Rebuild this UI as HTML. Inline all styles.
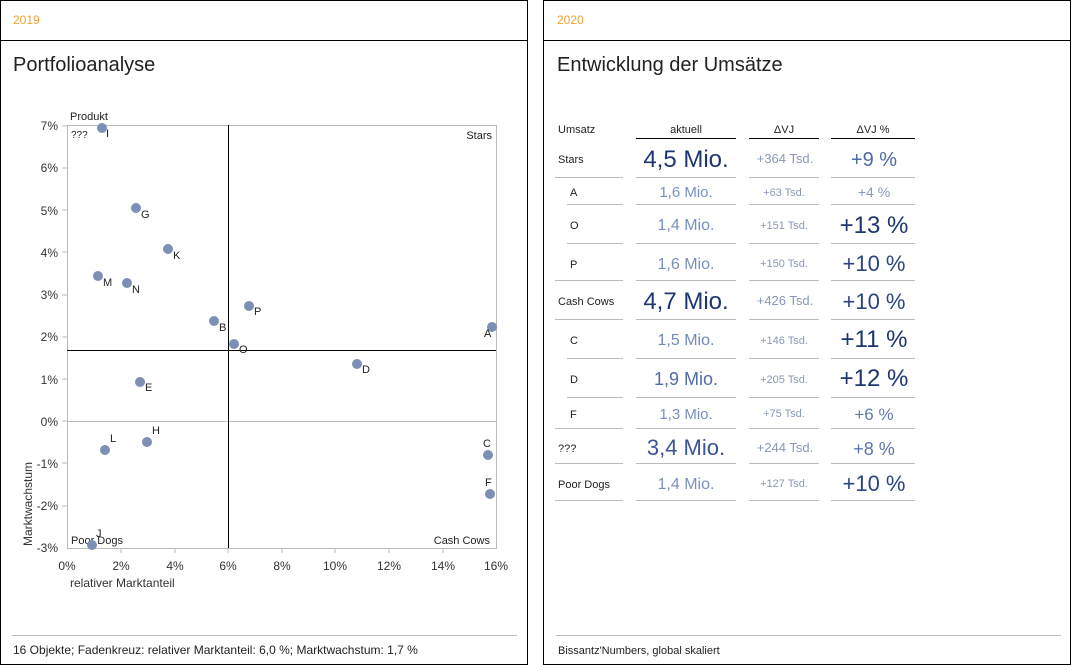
<!DOCTYPE html>
<html><head><meta charset="utf-8"><style>
body{margin:0;background:#fff;}
svg{display:block;font-family:"Liberation Sans",sans-serif;}
</style></head><body>
<svg width="1072" height="665" viewBox="0 0 1072 665">
<rect x="0.5" y="0.5" width="527" height="664" fill="#fff" stroke="#000"/>
<line x1="0" y1="40.5" x2="528" y2="40.5" stroke="#000"/>
<text x="13" y="24" font-size="12" fill="#f0a030">2019</text>
<text x="13" y="71" font-size="20" fill="#222">Portfolioanalyse</text>
<!-- plot -->
<rect x="67.5" y="125.5" width="429" height="423" fill="none" stroke="#bbb"/>
<line x1="67" y1="421.5" x2="496" y2="421.5" stroke="#bbb"/>
<line x1="228.5" y1="125" x2="228.5" y2="548" stroke="#000"/>
<line x1="67" y1="350.5" x2="496" y2="350.5" stroke="#000"/>
<g font-size="12" fill="#333" text-anchor="end">
<text x="58" y="130">7%</text><text x="58" y="172">6%</text><text x="58" y="215">5%</text>
<text x="58" y="257">4%</text><text x="58" y="299">3%</text><text x="58" y="341">2%</text>
<text x="58" y="384">1%</text><text x="58" y="426">0%</text><text x="58" y="468">-1%</text>
<text x="58" y="510">-2%</text><text x="58" y="552">-3%</text>
</g>
<g stroke="#bbb"><line x1="62" y1="126" x2="67" y2="126"/><line x1="62" y1="168" x2="67" y2="168"/><line x1="62" y1="210" x2="67" y2="210"/><line x1="62" y1="252" x2="67" y2="252"/><line x1="62" y1="295" x2="67" y2="295"/><line x1="62" y1="337" x2="67" y2="337"/><line x1="62" y1="379" x2="67" y2="379"/><line x1="62" y1="421" x2="67" y2="421"/><line x1="62" y1="463" x2="67" y2="463"/><line x1="62" y1="506" x2="67" y2="506"/><line x1="121" y1="548" x2="121" y2="553"/><line x1="175" y1="548" x2="175" y2="553"/><line x1="228" y1="548" x2="228" y2="553"/><line x1="282" y1="548" x2="282" y2="553"/><line x1="335" y1="548" x2="335" y2="553"/><line x1="389" y1="548" x2="389" y2="553"/><line x1="443" y1="548" x2="443" y2="553"/></g>
<g font-size="12" fill="#333" text-anchor="middle">
<text x="67" y="570">0%</text><text x="121" y="570">2%</text><text x="175" y="570">4%</text>
<text x="228" y="570">6%</text><text x="282" y="570">8%</text><text x="335" y="570">10%</text>
<text x="389" y="570">12%</text><text x="443" y="570">14%</text><text x="496" y="570">16%</text>
</g>
<text x="70" y="587" font-size="12" fill="#333">relativer Marktanteil</text>
<text transform="translate(32,546) rotate(-90)" font-size="12" fill="#333">Marktwachstum</text>
<text x="70" y="120" font-size="11" fill="#222">Produkt</text>
<text x="71" y="138" font-size="10" fill="#222">???</text>
<text x="492" y="139" font-size="11" fill="#222" text-anchor="end">Stars</text>
<text x="71" y="544" font-size="11" fill="#222">Poor Dogs</text>
<text x="490" y="544" font-size="11" fill="#222" text-anchor="end">Cash Cows</text>
<g fill="#7d8fb5">
<circle cx="102" cy="128" r="5"/><circle cx="136" cy="208" r="5"/><circle cx="168" cy="249" r="5"/>
<circle cx="98" cy="276" r="5"/><circle cx="127" cy="283" r="5"/><circle cx="214" cy="321" r="5"/>
<circle cx="249" cy="306" r="5"/><circle cx="234" cy="344" r="5"/><circle cx="492" cy="327" r="5"/>
<circle cx="357" cy="364" r="5"/><circle cx="140" cy="382" r="5"/><circle cx="105" cy="450" r="5"/>
<circle cx="147" cy="442" r="5"/><circle cx="488" cy="455" r="5"/><circle cx="490" cy="494" r="5"/>
<circle cx="92" cy="545" r="5"/>
</g>
<g font-size="11" fill="#222">
<text x="106" y="137">I</text><text x="141" y="218">G</text><text x="173" y="259">K</text>
<text x="103" y="286">M</text><text x="132" y="293">N</text><text x="219" y="331">B</text>
<text x="254" y="315">P</text><text x="239" y="353">O</text><text x="484" y="337">A</text>
<text x="362" y="373">D</text><text x="145" y="391">E</text><text x="110" y="442">L</text>
<text x="152" y="434">H</text><text x="483" y="447">C</text><text x="485" y="486">F</text>
<text x="96" y="537">J</text>
</g>
<line x1="12" y1="635.5" x2="517" y2="635.5" stroke="#bbb"/>
<text x="13" y="654" font-size="12" fill="#222">16 Objekte; Fadenkreuz: relativer Marktanteil: 6,0 %; Marktwachstum: 1,7 %</text>

<!-- right panel -->
<rect x="543.5" y="0.5" width="527" height="664" fill="#fff" stroke="#000"/>
<line x1="543" y1="40.5" x2="1071" y2="40.5" stroke="#000"/>
<text x="557" y="24" font-size="12" fill="#f0a030">2020</text>
<text x="557" y="71" font-size="20" fill="#222">Entwicklung der Umsätze</text>
<g font-size="11" fill="#222">
<text x="558" y="133">Umsatz</text>
<text x="686" y="133" text-anchor="middle">aktuell</text>
<text x="784" y="133" text-anchor="middle">ΔVJ</text>
<text x="873" y="133" text-anchor="middle">ΔVJ %</text>
</g>
<g stroke="#000"><line x1="636" y1="138.5" x2="736" y2="138.5"/><line x1="749" y1="138.5" x2="819" y2="138.5"/><line x1="831" y1="138.5" x2="915" y2="138.5"/></g>
<g stroke="#bbb">
<line x1="555" y1="177.5" x2="623" y2="177.5"/><line x1="567" y1="204.5" x2="623" y2="204.5"/><line x1="567" y1="243.5" x2="623" y2="243.5"/><line x1="555" y1="280.5" x2="623" y2="280.5"/><line x1="555" y1="319.5" x2="623" y2="319.5"/><line x1="567" y1="358.5" x2="623" y2="358.5"/><line x1="567" y1="397.5" x2="623" y2="397.5"/><line x1="555" y1="428.5" x2="623" y2="428.5"/><line x1="555" y1="463.5" x2="623" y2="463.5"/><line x1="555" y1="500.5" x2="623" y2="500.5"/>
</g>
<g stroke="#bbb" id="cols">
<line x1="636" y1="177.5" x2="736" y2="177.5"/><line x1="749" y1="177.5" x2="819" y2="177.5"/><line x1="831" y1="177.5" x2="915" y2="177.5"/>
<line x1="636" y1="204.5" x2="736" y2="204.5"/><line x1="749" y1="204.5" x2="819" y2="204.5"/><line x1="831" y1="204.5" x2="915" y2="204.5"/>
<line x1="636" y1="243.5" x2="736" y2="243.5"/><line x1="749" y1="243.5" x2="819" y2="243.5"/><line x1="831" y1="243.5" x2="915" y2="243.5"/>
<line x1="636" y1="280.5" x2="736" y2="280.5"/><line x1="749" y1="280.5" x2="819" y2="280.5"/><line x1="831" y1="280.5" x2="915" y2="280.5"/>
<line x1="636" y1="319.5" x2="736" y2="319.5"/><line x1="749" y1="319.5" x2="819" y2="319.5"/><line x1="831" y1="319.5" x2="915" y2="319.5"/>
<line x1="636" y1="358.5" x2="736" y2="358.5"/><line x1="749" y1="358.5" x2="819" y2="358.5"/><line x1="831" y1="358.5" x2="915" y2="358.5"/>
<line x1="636" y1="397.5" x2="736" y2="397.5"/><line x1="749" y1="397.5" x2="819" y2="397.5"/><line x1="831" y1="397.5" x2="915" y2="397.5"/>
<line x1="636" y1="428.5" x2="736" y2="428.5"/><line x1="749" y1="428.5" x2="819" y2="428.5"/><line x1="831" y1="428.5" x2="915" y2="428.5"/>
<line x1="636" y1="463.5" x2="736" y2="463.5"/><line x1="749" y1="463.5" x2="819" y2="463.5"/><line x1="831" y1="463.5" x2="915" y2="463.5"/>
<line x1="636" y1="500.5" x2="736" y2="500.5"/><line x1="749" y1="500.5" x2="819" y2="500.5"/><line x1="831" y1="500.5" x2="915" y2="500.5"/>
</g>
<g font-size="11" fill="#222">
<text x="558" y="163">Stars</text><text x="570" y="196">A</text><text x="570" y="229">O</text>
<text x="570" y="268">P</text><text x="558" y="305">Cash Cows</text><text x="570" y="344">C</text>
<text x="570" y="383">D</text><text x="570" y="418">F</text><text x="558" y="452">???</text>
<text x="558" y="488">Poor Dogs</text>
</g>
<g text-anchor="middle">
<text x="686" y="167" font-size="24" fill="#1d3670">4,5 Mio.</text>
<text x="686" y="197" font-size="15" fill="#7890c0">1,6 Mio.</text>
<text x="686" y="230" font-size="16" fill="#7890c0">1,4 Mio.</text>
<text x="686" y="269" font-size="16" fill="#7890c0">1,6 Mio.</text>
<text x="686" y="309" font-size="24" fill="#1d3670">4,7 Mio.</text>
<text x="686" y="345" font-size="16" fill="#6f89bb">1,5 Mio.</text>
<text x="686" y="385" font-size="18" fill="#4f6ba5">1,9 Mio.</text>
<text x="686" y="419" font-size="15" fill="#7890c0">1,3 Mio.</text>
<text x="686" y="455" font-size="22" fill="#3a5592">3,4 Mio.</text>
<text x="686" y="489" font-size="16" fill="#7890c0">1,4 Mio.</text>

<text x="785" y="163" font-size="13" fill="#8898b8">+364 Tsd.</text>
<text x="784" y="196" font-size="11" fill="#8898b8">+63 Tsd.</text>
<text x="784" y="229" font-size="11" fill="#8898b8">+151 Tsd.</text>
<text x="784" y="267" font-size="11" fill="#8898b8">+150 Tsd.</text>
<text x="785" y="305" font-size="13" fill="#8898b8">+426 Tsd.</text>
<text x="784" y="344" font-size="11" fill="#8898b8">+146 Tsd.</text>
<text x="784" y="383" font-size="11" fill="#8898b8">+205 Tsd.</text>
<text x="784" y="417" font-size="11" fill="#8898b8">+75 Tsd.</text>
<text x="785" y="452" font-size="13" fill="#8898b8">+244 Tsd.</text>
<text x="784" y="487" font-size="11" fill="#8898b8">+127 Tsd.</text>

<text x="874" y="166" font-size="20" fill="#4f6ba5">+9 %</text>
<text x="874" y="197" font-size="14" fill="#8898b8">+4 %</text>
<text x="874" y="233" font-size="24" fill="#1d3670">+13 %</text>
<text x="874" y="271" font-size="22" fill="#2a4582">+10 %</text>
<text x="874" y="309" font-size="22" fill="#2a4582">+10 %</text>
<text x="874" y="347" font-size="24" fill="#1d3670">+11 %</text>
<text x="874" y="386" font-size="24" fill="#1d3670">+12 %</text>
<text x="874" y="420" font-size="17" fill="#5f7ab0">+6 %</text>
<text x="874" y="455" font-size="18" fill="#5a75ab">+8 %</text>
<text x="874" y="491" font-size="22" fill="#2a4582">+10 %</text>
</g>
<line x1="556" y1="635.5" x2="1061" y2="635.5" stroke="#bbb"/>
<text x="558" y="654" font-size="11" fill="#222">Bissantz'Numbers, global skaliert</text>
</svg>
</body></html>
